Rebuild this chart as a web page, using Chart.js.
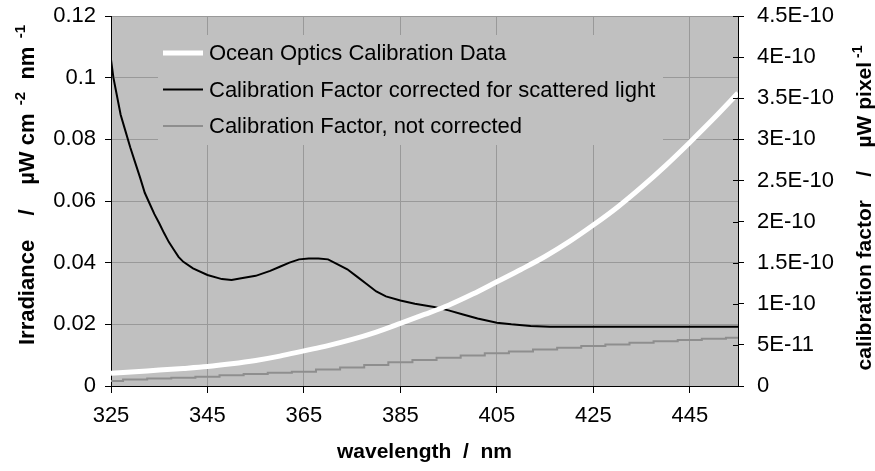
<!DOCTYPE html>
<html>
<head>
<meta charset="utf-8">
<script src="https://cdn.jsdelivr.net/npm/chart.js@4.4.0/dist/chart.umd.min.js"></script>
<style>
  html, body { margin: 0; padding: 0; background: #ffffff; }
  #wrap { width: 875px; height: 471px; position: relative; }
</style>
</head>
<body>
<div id="wrap"><canvas id="grafico"></canvas></div>
<script>
// Ocean Optics lamp calibration data (irradiance, left axis)
const oceanWl = [325, 330, 335, 340, 345, 350, 355, 360, 365, 370, 375, 380, 385, 390, 395, 400, 405, 410, 415, 420, 425, 430, 435, 440, 445, 450, 455];
const oceanIrr = [0.0041, 0.0046, 0.0052, 0.0057, 0.0063, 0.0072, 0.0083, 0.0097, 0.0114, 0.0131, 0.0151, 0.0175, 0.0203, 0.0232, 0.0262, 0.0298, 0.0338, 0.0378, 0.0420, 0.0468, 0.0522, 0.0580, 0.0645, 0.0715, 0.0790, 0.0868, 0.0950];

// calibration factor corrected for scattered light (right axis, x1E-10)
const corrWl = [325, 325.5, 326, 327, 328, 329, 330, 331, 332, 333, 334, 335, 336, 337, 338, 339, 340, 342, 345, 348, 350, 352, 355, 358, 360, 362, 364, 366, 368, 370, 372, 374, 376, 378, 380, 382, 385, 388, 392, 395, 398, 401, 405, 408, 412, 416, 425, 435, 445, 455];
const corrFactor = [3.97, 3.75, 3.6, 3.3, 3.1, 2.9, 2.72, 2.54, 2.35, 2.22, 2.09, 1.98, 1.86, 1.75, 1.66, 1.57, 1.51, 1.43, 1.35, 1.30, 1.29, 1.31, 1.34, 1.40, 1.45, 1.50, 1.54, 1.55, 1.55, 1.54, 1.48, 1.42, 1.33, 1.24, 1.15, 1.09, 1.04, 1.00, 0.96, 0.92, 0.87, 0.82, 0.77, 0.75, 0.73, 0.72, 0.72, 0.72, 0.72, 0.72];

// calibration factor, not corrected (right axis, x1E-10)
const rawWl = [325, 330, 335, 340, 345, 350, 355, 360, 365, 370, 375, 380, 385, 390, 395, 400, 405, 410, 415, 420, 425, 430, 435, 440, 445, 450, 455];
const rawFactor = [0.06, 0.08, 0.09, 0.10, 0.113, 0.13, 0.145, 0.16, 0.174, 0.20, 0.225, 0.255, 0.288, 0.315, 0.345, 0.37, 0.398, 0.42, 0.443, 0.465, 0.486, 0.505, 0.525, 0.543, 0.56, 0.575, 0.587];

const seriesNames = ['Ocean Optics Calibration Data', 'Calibration Factor corrected for scattered light', 'Calibration Factor, not corrected'];

// axis ticks
const xTicks = [325, 345, 365, 385, 405, 425, 445];
const yLeftTicks = [0, 0.02, 0.04, 0.06, 0.08, 0.1, 0.12];
const yLeftLabels = ['0', '0.02', '0.04', '0.06', '0.08', '0.1', '0.12'];
const yRightTicks = [0, 0.5, 1, 1.5, 2, 2.5, 3, 3.5, 4, 4.5];
const yRightLabels = ['0', '5E-11', '1E-10', '1.5E-10', '2E-10', '2.5E-10', '3E-10', '3.5E-10', '4E-10', '4.5E-10'];

// axis titles, [text, superscript?]
const xTitle = [['wavelength  /  nm', false]];
const yLeftTitle = [['Irradiance    /    \u00b5W cm', false], ['  -2', true], ['  nm', false], ['  -1', true]];
const yRightTitle = [['calibration factor    /    \u00b5W pixel', false], [' -1', true]];

const FONT = "'Liberation Sans', Arial, sans-serif";
const toPoints = (xs, ys) => xs.map((x, i) => ({ x: x, y: ys[i] }));

function drawRich(ctx, parts, x, y, rotate, size) {
  const main = 'bold ' + size + 'px ' + FONT;
  const sup = 'bold ' + Math.round(size * 0.67) + 'px ' + FONT;
  ctx.save();
  ctx.translate(x, y);
  if (rotate) ctx.rotate(-Math.PI / 2);
  ctx.fillStyle = '#000';
  ctx.textAlign = 'left';
  ctx.textBaseline = 'alphabetic';
  let total = 0;
  parts.forEach(p => { ctx.font = p[1] ? sup : main; total += ctx.measureText(p[0]).width; });
  let cx = -total / 2;
  parts.forEach(p => {
    ctx.font = p[1] ? sup : main;
    ctx.fillText(p[0], cx, p[1] ? -9 : 0);
    cx += ctx.measureText(p[0]).width;
  });
  ctx.restore();
}

const chartDecor = {
  id: 'chartDecor',
  beforeDraw(chart) {
    const { ctx, chartArea: a } = chart;
    ctx.save();
    ctx.fillStyle = '#c0c0c0';
    ctx.fillRect(a.left, a.top, a.right - a.left, a.bottom - a.top);
    ctx.restore();
  },
  afterDatasetsDraw(chart) {
    const { ctx, chartArea: a } = chart;
    // legend inside the plot
    const lx = a.left + 47, ly = a.top + 19;
    ctx.save();
    ctx.fillStyle = '#c0c0c0';
    ctx.fillRect(lx, ly, 505, 110);
    ctx.font = '22px ' + FONT;
    ctx.textBaseline = 'middle';
    ctx.textAlign = 'left';
    chart.data.datasets.forEach((ds, i) => {
      const ry = ly + 18 + i * 36.5;
      ctx.strokeStyle = ds.borderColor;
      ctx.lineWidth = ds.borderWidth;
      ctx.beginPath();
      ctx.moveTo(lx + 5, ry);
      ctx.lineTo(lx + 45, ry);
      ctx.stroke();
      ctx.fillStyle = '#000';
      ctx.fillText(ds.label, lx + 51, ry + 1);
    });
    ctx.restore();
  },
  afterDraw(chart) {
    const { ctx, chartArea: a } = chart;
    // inner half of the right axis tick marks
    const y2 = chart.scales.y2;
    ctx.save();
    ctx.strokeStyle = '#000';
    ctx.lineWidth = 1;
    y2.ticks.forEach(t => {
      const py = Math.round(y2.getPixelForValue(t.value)) + 0.5;
      ctx.beginPath();
      ctx.moveTo(a.right - 5, py);
      ctx.lineTo(a.right, py);
      ctx.stroke();
    });
    ctx.restore();
    drawRich(ctx, xTitle, (a.left + a.right) / 2, 458, false, 21);
    drawRich(ctx, yLeftTitle, 34, 185, true, 22);
    drawRich(ctx, yRightTitle, 871, 208, true, 21);
  }
};

const ctx = document.getElementById('grafico').getContext('2d');
const chart = new Chart(ctx, {
  type: 'line',
  data: {
    datasets: [{
      label: seriesNames[0],
      data: toPoints(oceanWl, oceanIrr),
      yAxisID: 'y',
      borderColor: '#ffffff',
      borderWidth: 5,
      pointRadius: 0,
      cubicInterpolationMode: 'monotone',
      fill: false
    }, {
      label: seriesNames[1],
      data: toPoints(corrWl, corrFactor),
      yAxisID: 'y2',
      borderColor: '#000000',
      borderWidth: 2,
      pointRadius: 0,
      tension: 0,
      fill: false
    }, {
      label: seriesNames[2],
      data: toPoints(rawWl, rawFactor),
      yAxisID: 'y2',
      borderColor: '#8e8e8e',
      borderWidth: 2,
      pointRadius: 0,
      stepped: 'middle',
      fill: false
    }]
  },
  options: {
    responsive: true,
    maintainAspectRatio: false,
    animation: false,
    layout: { padding: { top: 16, left: 0, right: 0, bottom: 0 } },
    plugins: {
      legend: { display: false },
      tooltip: { enabled: false }
    },
    scales: {
      x: {
        type: 'linear',
        min: 325,
        max: 455,
        afterBuildTicks: s => { s.ticks = xTicks.map(v => ({ value: v })); },
        afterFit: s => { s.height = 85; s.paddingLeft = 0; s.paddingRight = 0; },
        ticks: { color: '#000', font: { family: FONT, size: 22 }, padding: 10, maxRotation: 0, autoSkip: false },
        grid: { color: '#999999', tickColor: '#000', tickLength: 7, lineWidth: 1 },
        border: { color: '#000', width: 1 }
      },
      y: {
        position: 'left',
        min: 0,
        max: 0.12,
        afterBuildTicks: s => { s.ticks = yLeftTicks.map(v => ({ value: v })); },
        afterFit: s => { s.width = 111; s.paddingTop = 0; s.paddingBottom = 0; },
        ticks: {
          color: '#000', font: { family: FONT, size: 22 }, padding: 9,
          callback: (v, i) => yLeftLabels[i]
        },
        grid: { color: '#999999', tickColor: '#000', tickLength: 6, lineWidth: 1 },
        border: { color: '#000', width: 1 }
      },
      y2: {
        position: 'right',
        min: 0,
        max: 4.5,
        afterBuildTicks: s => { s.ticks = yRightTicks.map(v => ({ value: v })); },
        afterFit: s => { s.width = 137; s.paddingTop = 0; s.paddingBottom = 0; },
        ticks: {
          color: '#000', font: { family: FONT, size: 22 }, padding: 13,
          callback: (v, i) => yRightLabels[i]
        },
        grid: { drawOnChartArea: false, tickColor: '#000', tickLength: 6 },
        border: { color: '#000', width: 1 }
      }
    }
  },
  plugins: [chartDecor]
});
</script>
</body>
</html>
